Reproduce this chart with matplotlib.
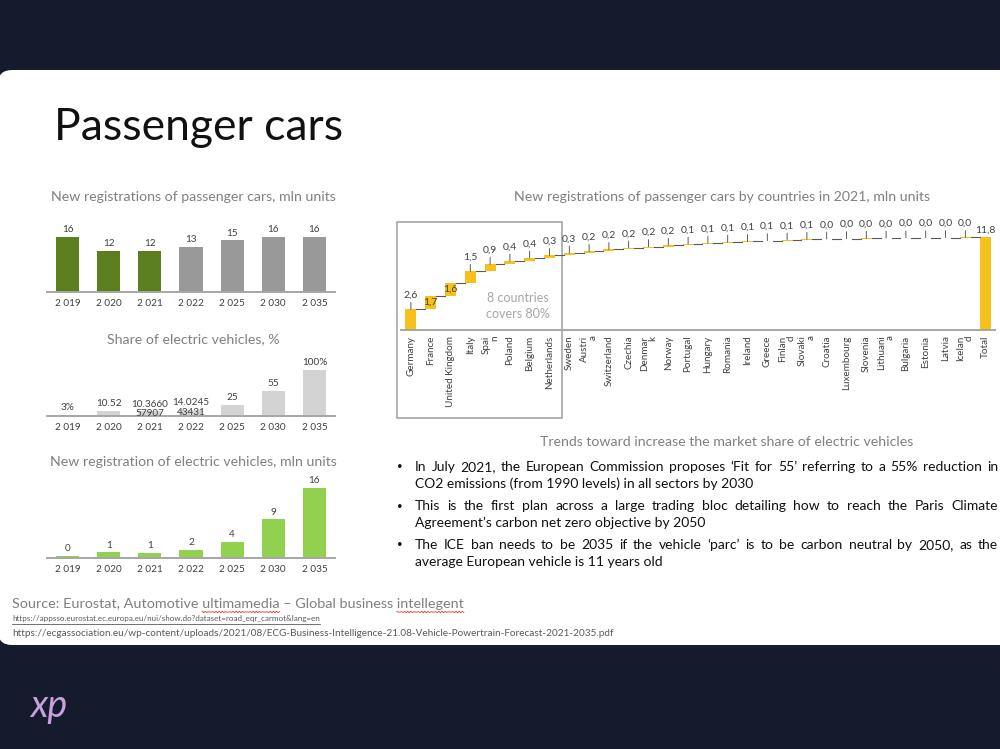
import matplotlib
matplotlib.use("Agg")
import matplotlib.pyplot as plt
from matplotlib.patches import FancyBboxPatch, Rectangle
import numpy as np

plt.rcParams['font.family'] = ['Lato', 'DejaVu Sans']

# ---- data ----
years = ["2 019", "2 020", "2 021", "2 022", "2 025", "2 030", "2 035"]
cars = [16, 12, 12, 13, 15, 16, 16]          # mln units, first three are actual
n_actual = 3
ev_share = [3, 10.52, 10.37, 14.02, 25, 55, 100]
ev_share_labels = ["3%", "10.52", "10.3660\n57907", "14.0245\n43431", "25", "55", "100%"]
ev_units = [0.48, 1.26, 1.24, 1.82, 3.75, 8.8, 16]
ev_units_labels = ["0", "1", "1", "2", "4", "9", "16"]

countries = ["Germany", "France", "United Kingdom", "Italy", "Spai\nn", "Poland", "Belgium",
             "Netherlands", "Sweden", "Austri\na", "Switzerland", "Czechia", "Denmar\nk",
             "Norway", "Portugal", "Hungary", "Romania", "Ireland", "Greece", "Finlan\nd",
             "Slovaki\na", "Croatia", "Luxembourg", "Slovenia", "Lithuani\na", "Bulgaria",
             "Estonia", "Latvia", "Icelan\nd"]
country_regs = [2.64, 1.72, 1.64, 1.48, 0.88, 0.44, 0.38, 0.32, 0.30, 0.22, 0.24, 0.20, 0.16,
                0.18, 0.14, 0.12, 0.13, 0.10, 0.10, 0.09, 0.08, 0.04, 0.04, 0.04, 0.03, 0.03,
                0.02, 0.02, 0.01]
total_regs = 11.8

bullets = [
    ["In July 2021, the European Commission proposes \u2018Fit for 55\u2019 referring to a 55% reduction in",
     "CO2 emissions (from 1990 levels) in all sectors by 2030"],
    ["This is the first plan across a large trading bloc detailing how to reach the Paris Climate",
     "Agreement\u2019s carbon net zero objective by 2050"],
    ["The ICE ban needs to be 2035 if the vehicle \u2018parc\u2019 is to be carbon neutral by 2050, as the",
     "average European vehicle is 11 years old"],
]

W, H = 1000, 749
fig = plt.figure(figsize=(W / 100, H / 100), dpi=100)
fig.patch.set_facecolor("#161a2d")

bg = fig.add_axes([0, 0, 1, 1])
bg.set_xlim(0, W)
bg.set_ylim(H, 0)
bg.axis("off")
bg.add_patch(FancyBboxPatch((-2, 70), 1020, 575, boxstyle="round,pad=0,rounding_size=14",
                            facecolor="white", edgecolor="none"))

renderer = fig.canvas.get_renderer()


def text_width(s, **kw):
    t = bg.text(0, 0, s + "x", **kw)
    w = t.get_window_extent(renderer).width
    t.remove()
    t = bg.text(0, 0, "x", **kw)
    w -= t.get_window_extent(renderer).width
    t.remove()
    return w


def px_axes(left, top, width, height):
    ax = fig.add_axes([left / W, 1 - (top + height) / H, width / W, height / H])
    ax.set_facecolor("none")
    for s in ["top", "left", "right"]:
        ax.spines[s].set_visible(False)
    ax.spines["bottom"].set_color("#a6a6a6")
    ax.spines["bottom"].set_linewidth(1.4)
    ax.set_yticks([])
    return ax


grey_title = "#808080"
dark = "#404040"

# title
bg.text(54, 127, "Passenger cars", fontsize=32, color="#111111", ha="left", va="center")

# ---- small bar charts ----
def small_chart(top, height, ymax, values, labels, colors, title, title_y):
    ax = px_axes(47, top, 288, height)
    x = np.arange(len(values))
    ax.bar(x, values, width=0.56, color=colors)
    ax.set_xlim(-0.5, len(values) - 0.5)
    ax.set_ylim(0, ymax)
    ax.set_xticks(x)
    ax.set_xticklabels(years, fontsize=7.2, color=dark)
    ax.tick_params(axis="x", length=0, pad=5)
    for xi, v, lab in zip(x, values, labels):
        off = -5 if "\n" in lab else 2
        ax.annotate(lab, (xi, v), xytext=(0, off), textcoords="offset points",
                    ha="center", va="bottom", fontsize=7.2, color=dark, linespacing=1.05)
    bg.text(193, title_y, title, fontsize=10.2, color=grey_title, ha="center", va="center")
    return ax


car_colors = ["#5b7f1f"] * n_actual + ["#999999"] * (len(cars) - n_actual)
small_chart(230, 62, 18, cars, [str(v) for v in cars], car_colors,
            "New registrations of passenger cars, mln units", 197)
small_chart(361, 55, 120, ev_share, ev_share_labels, "#d3d3d3",
            "Share of electric vehicles, %", 339)
small_chart(479, 79, 18, ev_units, ev_units_labels, "#92d050",
            "New registration of electric vehicles, mln units", 462)

# ---- waterfall ----
ax = px_axes(401, 228, 594, 102)
n = len(country_regs)
ends = np.cumsum(country_regs)
starts = ends - np.array(country_regs)
gold = "#f5c11a"
xs = np.arange(n)
ax.bar(xs, country_regs, bottom=starts, width=0.55, color=gold)
ax.bar(n, total_regs, width=0.55, color=gold)
for i in range(n):
    ax.plot([i + 0.275, i + 0.725], [ends[i], ends[i]], color="#595959", lw=0.8)
for i, v in enumerate(country_regs):
    lab = f"{v:.1f}".replace(".", ",")
    if i in (1, 2):
        ax.text(i, (starts[i] + ends[i]) / 2, lab, ha="center", va="center",
                fontsize=7.5, color=dark)
    else:
        ax.annotate(lab, (i, ends[i]), xytext=(0, 7), textcoords="offset points",
                    ha="center", va="bottom", fontsize=7.5, color=dark,
                    arrowprops=dict(arrowstyle="-", color=dark, lw=0.6, shrinkA=0, shrinkB=0))
ax.annotate(f"{total_regs:.1f}".replace(".", ","), (n, total_regs), xytext=(0, 2),
            textcoords="offset points", ha="center", va="bottom", fontsize=7.5, color=dark)
ax.set_xlim(-0.5, n + 0.5)
ax.set_ylim(0, 13)
ax.set_xticks(np.arange(n + 1))
ax.set_xticklabels(countries + ["Total"], rotation=90, fontsize=7.1, color=dark,
                   multialignment="right", linespacing=0.95)
ax.tick_params(axis="x", length=0, pad=4)

bg.add_patch(Rectangle((397, 222), 165, 196, facecolor="none", edgecolor="#a6a6a6", lw=1.2))
bg.text(518, 306, "8 countries\ncovers 80%", fontsize=9, color="#a6a6a6",
        ha="center", va="center", linespacing=1.3)
bg.text(722, 197, "New registrations of passenger cars by countries in 2021, mln units",
        fontsize=10.2, color=grey_title, ha="center", va="center")

# ---- bullet text ----
bg.text(727, 442, "Trends toward increase the market share of electric vehicles",
        fontsize=10.2, color=grey_title, ha="center", va="center")
body = dict(fontsize=10, color="#111111")
y = 467
for para in bullets:
    bg.text(397, y, "\u2022", ha="left", va="center", fontsize=7, color="#111111")
    first = para[0].split(" ")
    widths = [text_width(w, **body) for w in first]
    gap = (998 - 415 - sum(widths)) / (len(first) - 1)
    xw = 415
    for w, wd in zip(first, widths):
        bg.text(xw, y, w, ha="left", va="center", **body)
        xw += wd + gap
    bg.text(415, y + 17, para[1], ha="left", va="center", **body)
    y += 39

# ---- sources ----
src = dict(fontsize=10.4, color="#7f7f7f")
src_text = "Source: Eurostat, Automotive ultimamedia \u2013 Global business intellegent"
bg.text(12, 604, src_text, ha="left", va="center", **src)
for word in ["ultimamedia", "intellegent"]:
    pre = src_text[:src_text.index(word)]
    x0 = 12 + text_width(pre, **src)
    x1 = x0 + text_width(word, **src)
    wx = np.linspace(x0, x1, int((x1 - x0) / 1.5))
    bg.plot(wx, 612 + 0.8 * np.sin(wx * 2.2), color="#e03030", lw=0.6)

url1 = "https://appsso.eurostat.ec.europa.eu/nui/show.do?dataset=road_eqr_carmot&lang=en"
url2 = "https://ecgassociation.eu/wp-content/uploads/2021/08/ECG-Business-Intelligence-21.08-Vehicle-Powertrain-Forecast-2021-2035.pdf"
small1 = dict(fontsize=5.8, color="#595959")
small2 = dict(fontsize=7.2, color="#595959")
bg.text(12, 619, url1, ha="left", va="center", **small1)
bg.plot([12, 12 + text_width(url1, **small1)], [623.5, 623.5], color="#595959", lw=0.6)
bg.text(12, 633, url2, ha="left", va="center", **small2)

# logo
bg.text(30, 706, "xp", fontsize=27, style="italic", color="#c7a0de",
        ha="left", va="center")

fig.savefig("out.png", dpi=100, facecolor=fig.get_facecolor())
